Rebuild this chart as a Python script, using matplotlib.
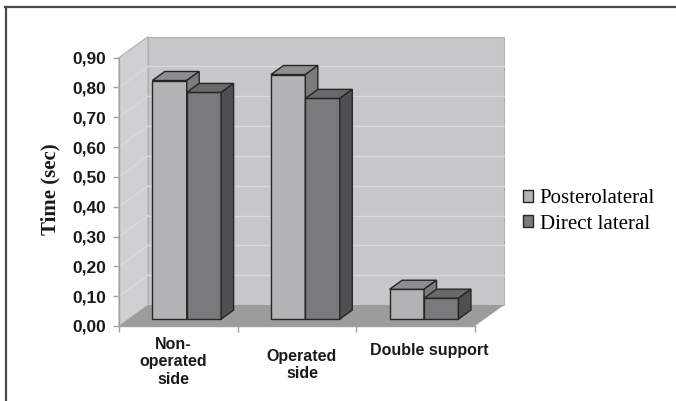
import matplotlib
matplotlib.use("Agg")
import matplotlib.pyplot as plt
from matplotlib.patches import Polygon, Patch
from matplotlib.lines import Line2D

# ---- data -------------------------------------------------------------
categories = ["Non-\noperated\nside", "Operated\nside", "Double support"]
series_names = ["Posterolateral", "Direct lateral"]
posterolateral = [0.80, 0.82, 0.10]
direct_lateral = [0.76, 0.74, 0.07]
y_ticks = [0.0, 0.1, 0.2, 0.3, 0.4, 0.5, 0.6, 0.7, 0.8, 0.9]
y_tick_labels = ["0,00", "0,10", "0,20", "0,30", "0,40",
                 "0,50", "0,60", "0,70", "0,80", "0,90"]
y_label = "Time (sec)"

# ---- styling ----------------------------------------------------------
W, H = 676, 401
face_colors = {
    "Posterolateral": ("#b3b3b5", "#8e8e90", "#7c7c7e"),   # front, top, side
    "Direct lateral": ("#7a7a7c", "#69696b", "#505052"),
}
wall_back = "#c7c7c9"
wall_side = "#d0d0d2"
floor_col = "#9c9c9c"
grid_col = "#dadadc"
axis_col = "#a0a0a0"
edge_col = "#262626"

# depth of the 3-D box, in data units (x: categories, y: seconds)
DX, DY = 0.2444, 0.0704
Z0, Z1 = 0.33, 0.76          # bar depth range inside the box
BAR_W = 0.29
BAR_START = 0.20

fig = plt.figure(figsize=(W / 100, H / 100), dpi=100)
fig.patch.set_facecolor("white")

# axes: front plane spans 0..3 (x) and 0..0.9 (y); box extends by DX/DY
px_per_cat = 118.67
px_per_val = 298.2
ax_left, ax_bottom = 119, H - 326
ax_w = (3 + DX) * px_per_cat
ax_h = (0.9 + DY) * px_per_val
ax = fig.add_axes([ax_left / W, ax_bottom / H, ax_w / W, ax_h / H])
ax.set_xlim(0, 3 + DX)
ax.set_ylim(0, 0.9 + DY)
ax.set_facecolor("none")


def proj(x, y, z):
    return (x + z * DX, y + z * DY)


def poly(pts, fc, ec="none", lw=0.0, z=1):
    ax.add_patch(Polygon(pts, closed=True, facecolor=fc, edgecolor=ec,
                         linewidth=lw, zorder=z, clip_on=False,
                         joinstyle="miter"))


ymax = y_ticks[-1]
ncat = len(categories)

# walls and floor
poly([proj(0, 0, 1), proj(ncat, 0, 1), proj(ncat, ymax, 1), proj(0, ymax, 1)],
     wall_back, ec="#b0b0b2", lw=0.8, z=1)
poly([proj(0, 0, 0), proj(0, 0, 1), proj(0, ymax, 1), proj(0, ymax, 0)],
     wall_side, ec="#b0b0b2", lw=0.8, z=1)
for v in y_ticks[1:-1]:
    ax.plot(*zip(proj(0, v, 1), proj(ncat, v, 1)), color=grid_col, lw=1.0,
            zorder=2, clip_on=False)
    ax.plot(*zip(proj(0, v, 0), proj(0, v, 1)), color=grid_col, lw=1.0,
            zorder=2, clip_on=False)
poly([proj(0, 0, 0), proj(ncat, 0, 0), proj(ncat, 0, 1), proj(0, 0, 1)],
     floor_col, z=3)

# bars
for i in range(ncat):
    for j, (name, vals) in enumerate(zip(series_names,
                                         [posterolateral, direct_lateral])):
        v = vals[i]
        x0 = i + BAR_START + j * BAR_W
        x1 = x0 + BAR_W
        front, top, side = face_colors[name]
        zz = 10 + i * 3 + j
        poly([proj(x0, 0, Z0), proj(x1, 0, Z0), proj(x1, v, Z0), proj(x0, v, Z0)],
             front, ec=edge_col, lw=1.0, z=zz)
        poly([proj(x0, v, Z0), proj(x1, v, Z0), proj(x1, v, Z1), proj(x0, v, Z1)],
             top, ec=edge_col, lw=1.0, z=zz)
        poly([proj(x1, 0, Z0), proj(x1, 0, Z1), proj(x1, v, Z1), proj(x1, v, Z0)],
             side, ec=edge_col, lw=1.0, z=zz)

# axes lines and ticks
for s in ["top", "right"]:
    ax.spines[s].set_visible(False)
ax.spines["left"].set_bounds(0, ymax)
ax.spines["bottom"].set_bounds(0, ncat)
for s in ["left", "bottom"]:
    ax.spines[s].set_color(axis_col)
    ax.spines[s].set_linewidth(1.0)
    ax.spines[s].set_zorder(5)

ax.set_yticks(y_ticks)
ax.set_yticklabels(y_tick_labels)
ax.set_xticks(range(ncat + 1))
ax.set_xticklabels([""] * (ncat + 1))
ax.tick_params(axis="both", direction="out", length=4, width=1.0,
               color=axis_col)
ax.tick_params(axis="y", pad=5)
for lab in ax.get_yticklabels():
    lab.set_fontfamily("Liberation Sans")
    lab.set_fontweight("bold")
    lab.set_fontsize(12.5)
    lab.set_color("#1a1a1a")

# category labels
cat_x = [0.455, 1.542, 2.612]
cat_y = [-0.124, -0.134, -0.083]
xtr = ax.get_xaxis_transform()
for cx, cy, lab in zip(cat_x, cat_y, categories):
    ax.text(cx, cy, lab, transform=xtr, ha="center", va="center",
            fontfamily="Liberation Sans", fontweight="bold", fontsize=11.5,
            color="#1a1a1a", linespacing=1.2, clip_on=False)

# y-axis title
fig.text(50 / W, 1 - 189 / H, y_label, rotation=90, ha="center",
         va="center", fontfamily="Liberation Serif", fontweight="bold",
         fontsize=15, color="#1a1a1a")

# legend
handles = [Patch(facecolor=face_colors[n][0], edgecolor=edge_col, linewidth=1.0)
           for n in series_names]
fig.legend(handles, series_names, loc="upper left",
           bbox_to_anchor=(523 / W, 1 - 189 / H), frameon=False,
           prop={"family": "Liberation Serif", "size": 15},
           handlelength=0.5, handleheight=0.5, handletextpad=0.3,
           labelspacing=0.32, borderpad=0, borderaxespad=0)

# outer frame (top and left edges)
fig.add_artist(Line2D([5 / W, 1], [1 - 6.5 / H, 1 - 6.5 / H],
                      transform=fig.transFigure, color="#4a4a4a", lw=1.6))
fig.add_artist(Line2D([5.5 / W, 5.5 / W], [0, 1 - 6.5 / H],
                      transform=fig.transFigure, color="#4a4a4a", lw=1.6))

fig.savefig("out.png", dpi=100)
